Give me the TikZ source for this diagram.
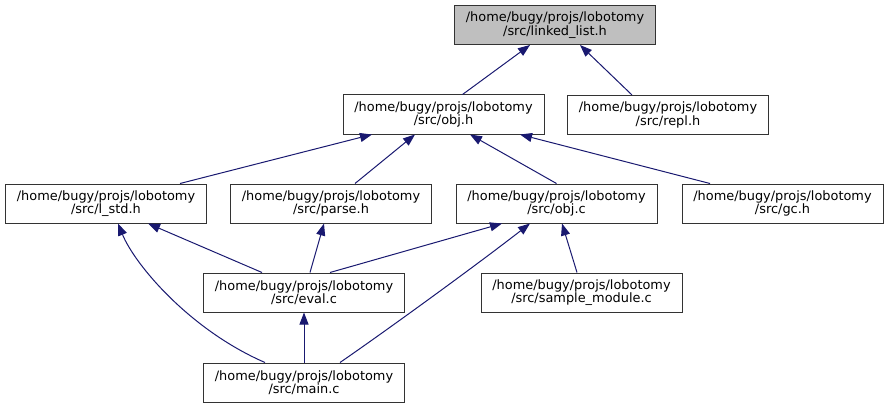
\documentclass[tikz,border=0pt]{standalone}
\usepackage{fontspec}
\setmainfont{DejaVu Sans}
\usetikzlibrary{arrows.meta}
\definecolor{edgeblue}{HTML}{191970}
\definecolor{boxline}{HTML}{333333}
\begin{document}
\begin{tikzpicture}[x=1pt,y=-1pt,
  box/.style={draw=boxline, line width=1pt, fill=white, minimum width=201pt, minimum height=39pt,
    inner sep=0pt, align=center, font=\fontsize{12.9pt}{12pt}\selectfont},
  edge/.style={draw=edgeblue, line width=1pt, -{Triangle[length=12pt,width=9pt]}}]
\useasboundingbox (0,0) rectangle (888,409);
\node[box, fill={rgb,255:red,191;green,191;blue,191}] (linked) at (555,25) {/home/bugy/projs/lobotomy\\/src/linked\_list.h};
\node[box] (objh) at (443.5,114.5) {/home/bugy/projs/lobotomy\\/src/obj.h};
\node[box] (repl) at (668,115) {/home/bugy/projs/lobotomy\\/src/repl.h};
\node[box] (lstd) at (106,203.5) {/home/bugy/projs/lobotomy\\/src/l\_std.h};
\node[box] (parse) at (331,203.5) {/home/bugy/projs/lobotomy\\/src/parse.h};
\node[box] (objc) at (556.5,203.5) {/home/bugy/projs/lobotomy\\/src/obj.c};
\node[box] (gc) at (782.5,203.5) {/home/bugy/projs/lobotomy\\/src/gc.h};
\node[box] (eval) at (304,292.5) {/home/bugy/projs/lobotomy\\/src/eval.c};
\node[box] (sample) at (581.5,292.5) {/home/bugy/projs/lobotomy\\/src/sample\_module.c};
\node[box] (main) at (304,382.5) {/home/bugy/projs/lobotomy\\/src/main.c};

\draw[edge] ([xshift=19pt]objh.north) -- ([xshift=-25pt]linked.south);
\draw[edge] ([xshift=-36pt]repl.north) -- ([xshift=25pt]linked.south);
\draw[edge] ([xshift=74pt]lstd.north) -- ([xshift=-71.5pt]objh.south);
\draw[edge] ([xshift=24pt]parse.north) -- ([xshift=-28.5pt]objh.south);
\draw[edge] (objc.north) -- ([xshift=26.5pt]objh.south);
\draw[edge] ([xshift=-72.5pt]gc.north) -- ([xshift=76.5pt]objh.south);
\draw[edge] ([xshift=-42pt]eval.north) -- ([xshift=42pt]lstd.south);
\draw[edge] ([xshift=6pt]eval.north) -- ([xshift=-7pt]parse.south);
\draw[edge] ([xshift=26pt]eval.north) -- ([xshift=-54.5pt]objc.south);
\draw[edge] ([xshift=-4.5pt]sample.north) -- ([xshift=5.5pt]objc.south);
\draw[edge] (main.north) -- (eval.south);
\draw[edge] ([xshift=-39pt]main.north) .. controls (190,330) and (135,265) .. ([xshift=12pt]lstd.south);
\draw[edge] ([xshift=36pt]main.north) .. controls (380,335) and (470,270) .. ([xshift=-26.5pt]objc.south);
\end{tikzpicture}
\end{document}
